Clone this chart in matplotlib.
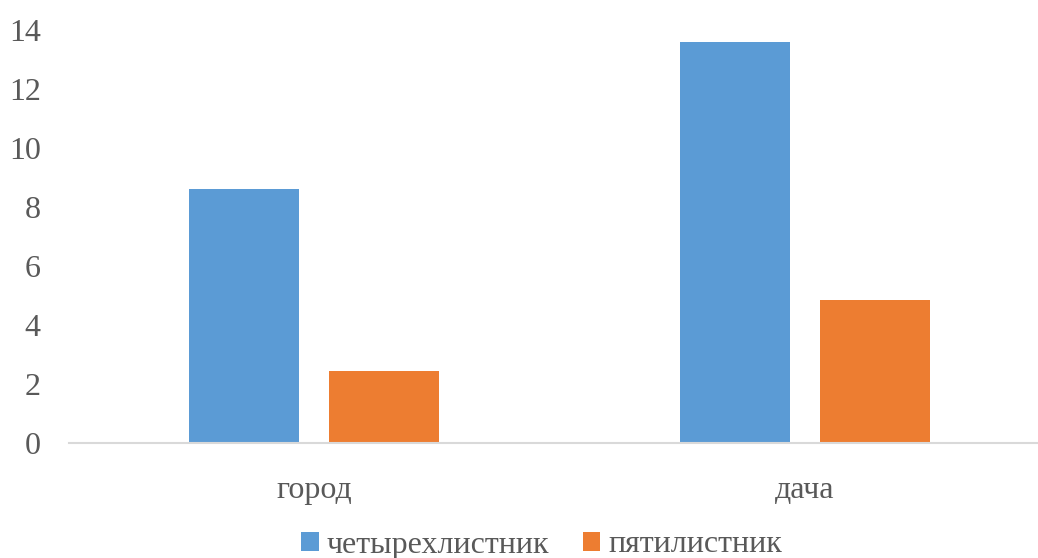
import matplotlib
matplotlib.use("Agg")
import matplotlib.pyplot as plt
import numpy as np

categories = ["город", "дача"]
series_names = ["четырехлистник", "пятилистник"]
four_leaf = [8.6, 13.6]
five_leaf = [2.45, 4.85]
colors = ["#5b9bd5", "#ed7d31"]
yticks = [0, 2, 4, 6, 8, 10, 12, 14]

plt.rcParams['font.family'] = ['Liberation Serif', 'DejaVu Serif']
W, H = 1038, 558
fig = plt.figure(figsize=(W/100, H/100), dpi=100)
ax = fig.add_axes([68.5/W, (H-443)/H, 982/W, 413/H])

x = np.arange(len(categories))
w = 0.224
off = 0.1426
ax.bar(x - off, four_leaf, w, color=colors[0], label=series_names[0])
ax.bar(x + off, five_leaf, w, color=colors[1], label=series_names[1])

ax.set_xlim(-0.5, 1.5)
ax.set_ylim(0, 14)
ax.set_yticks(yticks)
ax.set_yticklabels([str(t) for t in yticks])
ax.set_xticks(x)
ax.set_xticklabels(categories)
for s in ["top", "right", "left"]:
    ax.spines[s].set_visible(False)
ax.spines["bottom"].set_color("#d9d9d9")
ax.spines["bottom"].set_linewidth(1.5)
ax.tick_params(axis="both", length=0, labelsize=23, labelcolor="#595959")
ax.tick_params(axis="y", pad=20)
ax.tick_params(axis="x", pad=24)

fig.legend(loc="center", bbox_to_anchor=(541.5/W, 13/H), ncol=2, frameon=False,
           fontsize=23, labelcolor="#595959", handlelength=0.55, handleheight=0.55,
           handletextpad=0.25, columnspacing=1.05)
fig.savefig("out.png", dpi=100)
